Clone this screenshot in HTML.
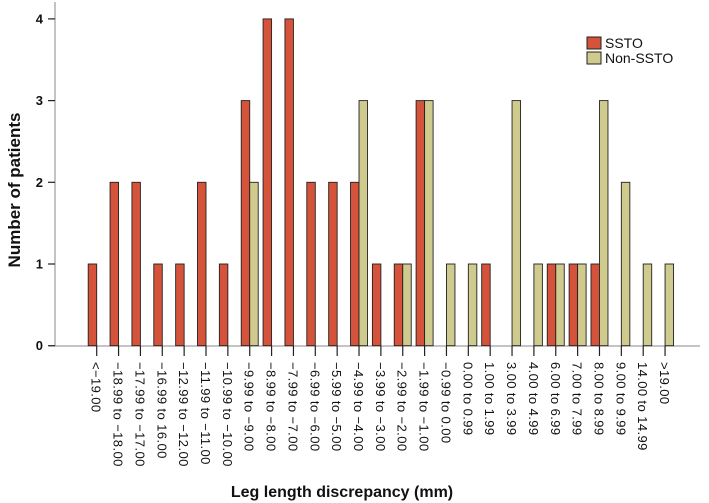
<!DOCTYPE html>
<html><head><meta charset="utf-8"><style>
body{margin:0;background:#fff}
svg{display:block;font-family:"Liberation Sans",Arial,sans-serif}
</style></head><body>
<svg id="chart" width="709" height="503" viewBox="0 0 709 503">
<g id="axes"></g><g id="bars"></g><g id="xlabels"></g>
<text x="342" y="497" text-anchor="middle" font-size="16" font-weight="bold" fill="#111">Leg length discrepancy (mm)</text>
<text transform="translate(20,190) rotate(-90)" text-anchor="middle" font-size="17" font-weight="bold" fill="#111">Number of patients</text>
<g>
<rect x="587" y="37" width="14" height="12" fill="#d4533a" stroke="#222"/>
<text x="605" y="48" font-size="14" fill="#111">SSTO</text>
<rect x="587" y="52" width="14" height="12" fill="#cfcb8f" stroke="#222"/>
<text x="605" y="63" font-size="14" fill="#111">Non-SSTO</text>
</g>
</svg>
<script>
const categories=["<−19.00","−18.99 to −18.00","−17.99 to −17.00","−16.99 to 16.00","−12.99 to −12.00","−11.99 to −11.00","−10.99 to −10.00","−9.99 to −9.00","−8.99 to −8.00","−7.99 to −7.00","−6.99 to −6.00","−5.99 to −5.00","−4.99 to −4.00","−3.99 to −3.00","−2.99 to −2.00","−1.99 to −1.00","−0.99 to 0.00","0.00 to 0.99","1.00 to 1.99","3.00 to 3.99","4.00 to 4.99","6.00 to 6.99","7.00 to 7.99","8.00 to 8.99","9.00 to 9.99","14.00 to 14.99",">19.00"];
const sstoValues=[1,2,2,1,1,2,1,3,4,4,2,2,2,1,1,3,0,0,1,0,0,1,1,1,0,0,0];
const nonSstoValues=[0,0,0,0,0,0,0,2,0,0,0,0,3,0,1,3,1,1,0,3,1,1,1,3,2,1,1];
const yTicks=[0,1,2,3,4];
const NS="http://www.w3.org/2000/svg";
const x0=96.7,step=21.86,bw=8.5;
function xPos(i){return x0+i*step;}
function yPos(v){return 345.7-v*81.7;}
function mk(tag,attrs,parent){const e=document.createElementNS(NS,tag);for(const k in attrs)e.setAttribute(k,attrs[k]);parent.appendChild(e);return e;}
const axes=document.getElementById('axes'),bars=document.getElementById('bars'),xl=document.getElementById('xlabels');
let l=mk('line',{x1:55,y1:2,x2:55,y2:346,stroke:'#888','stroke-width':1},axes);


l=mk('line',{x1:49,y1:346,x2:700,y2:346,stroke:'#888','stroke-width':1},axes);


yTicks.forEach(t=>{
 const y=yPos(t);
 let tk=mk('line',{x1:48,y1:y,x2:55,y2:y,stroke:'#222','stroke-width':1.2},axes);
 
 
 let tx=mk('text',{x:43,y:y+4.5,'text-anchor':'end','font-size':13,'font-weight':'bold',fill:'#111'},axes);
 tx.textContent=t;
 
 
});
categories.forEach((c,i)=>{
 const x=xPos(i);
 if(sstoValues[i]>0){
  let r=mk('rect',{x:x-bw,y:yPos(sstoValues[i]),width:bw,height:yPos(0)-yPos(sstoValues[i]),fill:'#d4533a',stroke:'#222','stroke-width':0.9},bars);
  
  
 }
 if(nonSstoValues[i]>0){
  let r=mk('rect',{x:x,y:yPos(nonSstoValues[i]),width:bw,height:yPos(0)-yPos(nonSstoValues[i]),fill:'#cfcb8f',stroke:'#222','stroke-width':0.9},bars);
  
  
 }
 let tk=mk('line',{x1:x,y1:346,x2:x,y2:356,stroke:'#222','stroke-width':1.2},xl);
 
 
 let tx=mk('text',{transform:`translate(${x-5},362) rotate(90)`,'font-size':13,'letter-spacing':'0.4',fill:'#111'},xl);
 tx.textContent=c;
 
 
});
</script>
</body></html>
